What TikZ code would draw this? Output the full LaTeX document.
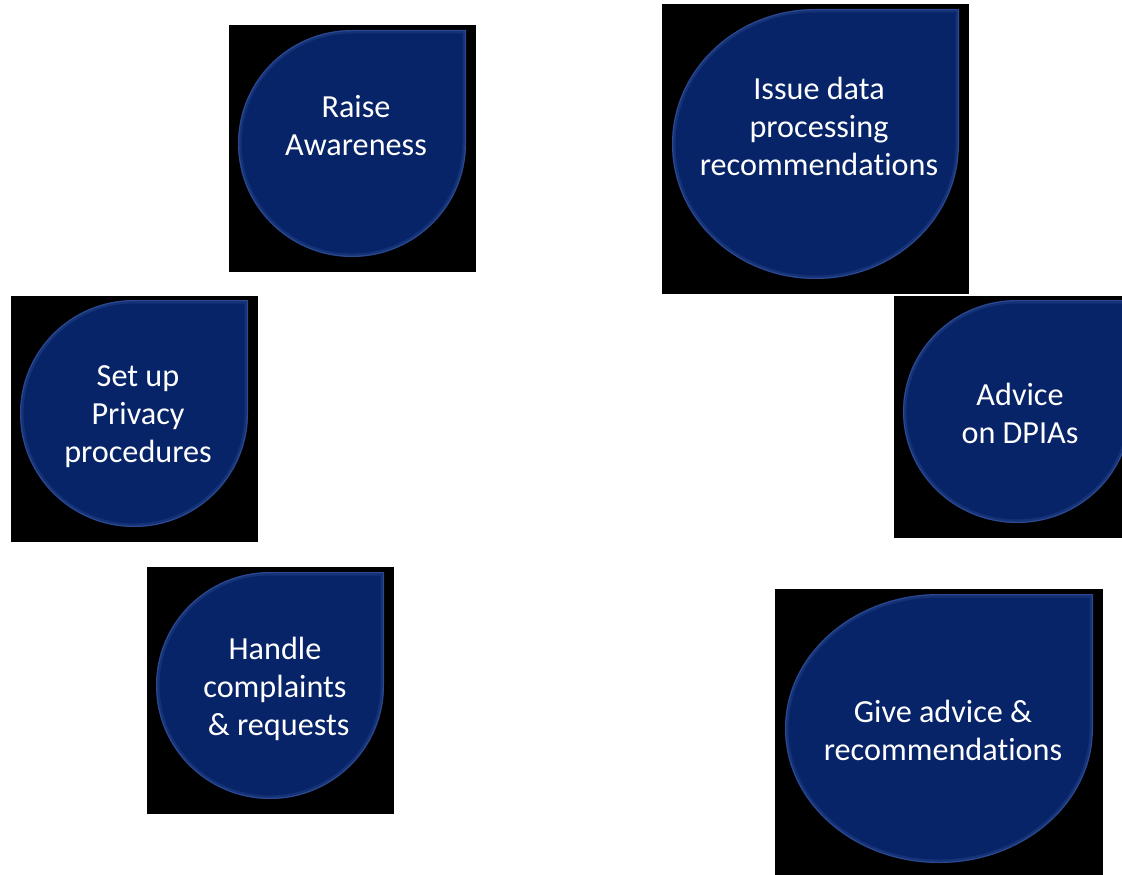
\documentclass[tikz,border=0pt]{standalone}
\usepackage{fontspec}
\setmainfont{Carlito}[Ligatures={NoCommon}]
\definecolor{dropblue}{RGB}{8,36,104}
\definecolor{rimblue}{RGB}{60,92,165}
\tikzset{
  blackbox/.style={fill=black, draw=none},
  droptext/.style={text=white, align=center, inner sep=0pt,
    font=\fontsize{32.2}{38}\selectfont},
  rimwide/.style={draw=rimblue, line width=7pt, opacity=0.25},
  rimthin/.style={draw=rimblue, line width=2.4pt, opacity=0.55},
}
% teardrop: left, top, right, bottom (pixel coordinates, y downward)
\newcommand{\teardrop}[4]{%
  \pgfmathsetmacro\tdcx{(#1+#3)/2}%
  \pgfmathsetmacro\tdcy{(#2+#4)/2}%
  \pgfmathsetmacro\tdrx{(#3-#1)/2}%
  \pgfmathsetmacro\tdry{(#4-#2)/2}%
  \begin{scope}
    \clip (#3,\tdcy) -- (#3,#2) -- (\tdcx,#2)
      arc[start angle=90, end angle=360, x radius=\tdrx pt, y radius=\tdry pt] -- cycle;
    \fill[dropblue] (#1,#2) rectangle (#3,#4);
    \path[rimwide] (#3,\tdcy) -- (#3,#2) -- (\tdcx,#2)
      arc[start angle=90, end angle=360, x radius=\tdrx pt, y radius=\tdry pt] -- cycle;
    \path[rimthin] (#3,\tdcy) -- (#3,#2) -- (\tdcx,#2)
      arc[start angle=90, end angle=360, x radius=\tdrx pt, y radius=\tdry pt] -- cycle;
  \end{scope}}
\begin{document}
\begin{tikzpicture}[x=1pt, y=-1pt]
  \useasboundingbox (0,0) rectangle (1122,875);
  \clip (0,0) rectangle (1122,875);

  % Raise Awareness
  \fill[blackbox] (229,25) rectangle (476,272);
  \teardrop{238}{30}{466}{257}
  \node[droptext] (raise) at (356,126) {Raise\\Awareness};

  % Issue data processing recommendations
  \fill[blackbox] (662,4) rectangle (969,294);
  \teardrop{672}{9}{959}{279}
  \node[droptext] (issue) at (819,126) {Issue data\\processing\\recommendations};

  % Set up Privacy procedures
  \fill[blackbox] (11,296) rectangle (258,542);
  \teardrop{20}{300}{248}{527}
  \node[droptext] (setup) at (138,417) {Set up\\Privacy\\procedures};

  % Advice on DPIAs
  \fill[blackbox] (894,296) rectangle (1141,538);
  \teardrop{903}{300}{1131}{523}
  \node[droptext] (dpia) at (1020,413) {Advice\\on DPIAs};

  % Handle complaints & requests
  \fill[blackbox] (147,567) rectangle (394,814);
  \teardrop{156}{572}{384}{799}
  \node[droptext] (handle) at (275,689) {Handle\\complaints\\\ \& requests};

  % Give advice & recommendations
  \fill[blackbox] (775,589) rectangle (1103,880);
  \teardrop{785}{594}{1093}{863}
  \node[droptext] (give) at (943,730) {Give advice \&\\recommendations};
\end{tikzpicture}
\end{document}
